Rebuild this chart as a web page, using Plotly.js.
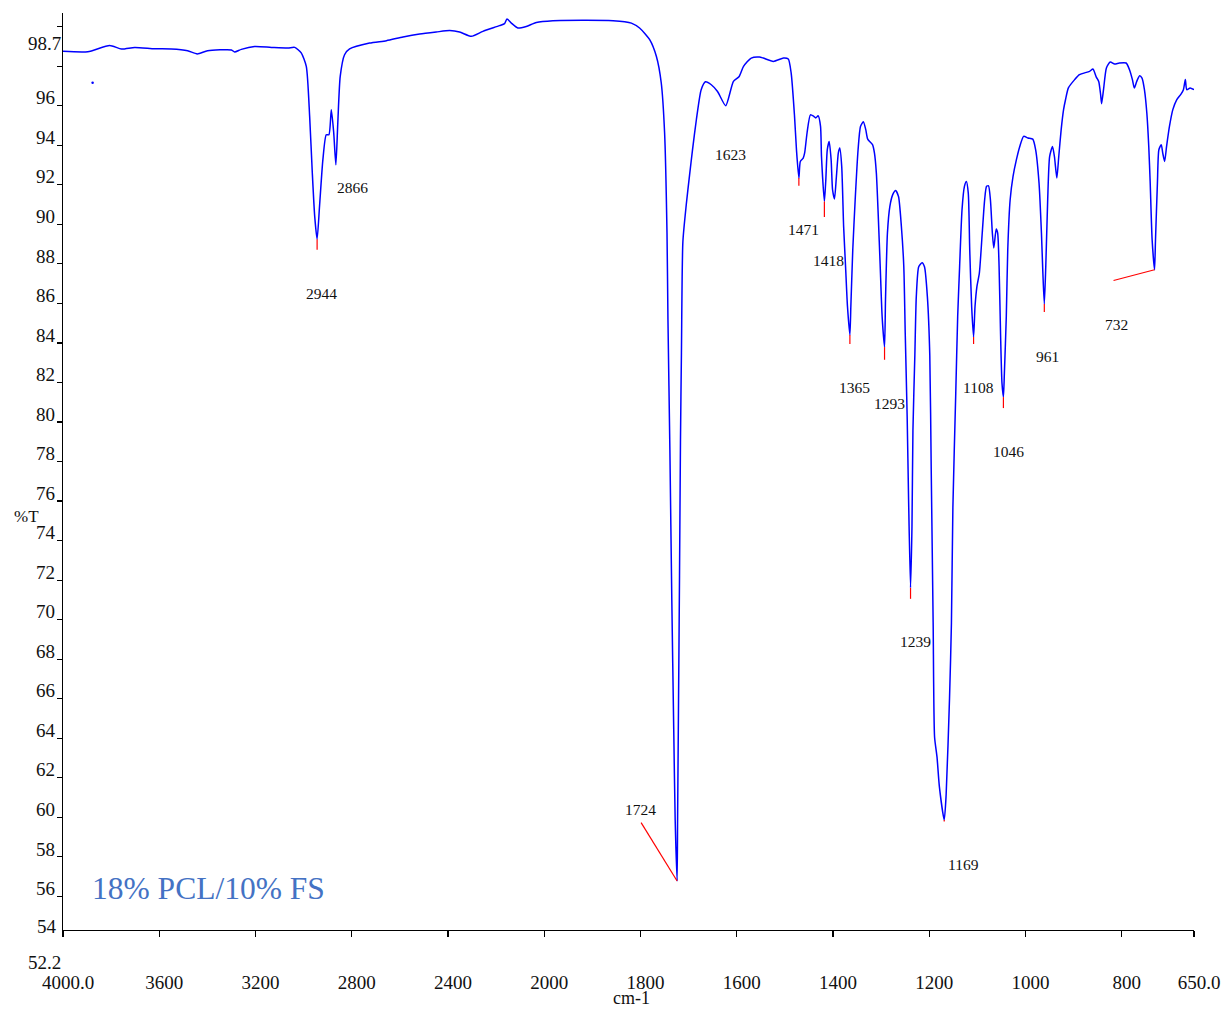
<!DOCTYPE html>
<html><head><meta charset="utf-8">
<script src="https://cdn.plot.ly/plotly-3.0.1.min.js"></script>
<style>html,body{margin:0;padding:0;background:#fff}</style>
</head><body><div id="chart" style="width:1226px;height:1009px"></div>
<script>
// ---- data (wavenumber in cm-1, transmittance in %T) ----
const wavenumber = [4000,3897,3806,3757,3702,3619,3550,3482,3442,3399,3300,3287,3259,3204,3134,3065,3037,3010,2989,2975,2964,2954,2944,2934,2920,2906,2895,2885,2875,2866,2858,2848,2830,2809,2726,2656,2587,2518,2449,2393,2352,2303,2255,2186,2165,2155,2137,2110,2075,2033,
1982,1912,1857,1833,1819,1802,1781,1767,1757,1750,1745,1743,1739,1735,1731,1728,1724,1723,1721,1719,1717,1715,1712,1705,1698,1692,1684,1674,1665,1653,1640,1623,1607,1595,1586,1570,1553,1545,1524,1503,1493,1487,1480,1476,1471,1468,1462,1459,1454,1447,1440,1436,1431,1426,1424,1418,1415,1412,1408,1404,1401,1397,1393,1389,1386,1382,1378,1374,1370,1365,1363,1359,1354,1348,1343,1337,1332,1328,1318,1314,1310,1306,1302,1298,1293,1291,1287,1282,1276,1270,1264,1258,1253,1250,1246,1243,1239,1236,1234,1230,1227,1222,1215,1210,1204,1199,1196,1192,1189,1184,1179,1169,1165,1158,1154,1151,1145,1141,1137,1132,1127,1123,1119,1116,1112,1108,1105,1101,1096,1090,1085,1081,1077,1073,1069,1066,1061,1058,1055,1052,1049,1046,1044,1040,1037,1032,1026,1019,1012,1004,995,985,979,972,967,964,961,958,954,950,944,940,935,931,926,921,917,911,898,888,867,860,853,848,844,842,838,832,824,815,805,791,784,778,774,769,763,758,753,748,744,741,737,732,730,726,723,718,715,711,707,701,694,686,677,672,668,665,658,650];
const transmittance = [98.75,98.73,99.05,98.87,98.95,98.88,98.87,98.78,98.62,98.78,98.82,98.72,98.85,98.99,98.95,98.92,98.95,98.67,97.99,95.46,92.61,90.40,89.25,90.90,93.27,94.53,94.53,95.80,94.63,93.01,95.14,97.48,98.58,98.87,99.17,99.29,99.48,99.63,99.73,99.80,99.73,99.51,99.76,100.05,100.15,100.39,100.18,99.93,100.01,100.21,
100.30,100.32,100.30,100.25,100.18,99.93,99.34,98.49,97.16,94.63,89.57,85.17,78.59,71.00,64.43,59.87,56.78,59.87,65.94,72.22,79.10,83.50,89.12,90.99,92.51,93.77,95.29,96.81,97.21,97.06,96.72,96.00,97.23,97.48,97.99,98.41,98.46,98.41,98.24,98.41,98.36,97.65,95.46,93.77,92.34,93.18,93.35,93.61,94.62,95.54,95.46,95.38,95.49,94.95,93.43,91.16,92.26,93.77,94.19,93.27,91.75,91.28,92.42,93.61,93.86,92.93,89.89,87.87,85.84,84.40,85.84,88.71,91.24,93.77,94.95,95.19,94.79,94.31,94.03,93.61,92.59,90.40,87.87,85.34,83.79,86.18,89.56,90.90,91.50,91.71,91.41,89.89,87.87,84.50,80.28,76.06,71.61,74.70,79.56,83.40,86.34,87.85,88.06,87.85,86.34,83.40,77.58,69.84,64.05,63.06,61.54,59.87,61.14,66.00,69.84,75.66,81.48,85.35,87.87,90.74,91.92,92.17,91.58,88.71,85.84,84.30,85.84,86.86,87.53,89.56,91.24,91.92,91.95,91.24,89.56,88.80,89.76,89.56,87.87,84.50,81.97,81.26,82.47,85.34,88.71,91.24,92.42,93.27,93.94,94.45,94.37,94.31,93.77,92.09,89.56,87.53,85.97,87.87,91.24,93.43,93.94,93.43,92.34,93.43,94.79,95.80,96.30,96.90,97.32,97.57,97.74,97.86,97.45,97.23,96.56,96.10,96.81,97.91,98.21,98.11,98.16,98.16,97.82,97.32,96.90,97.23,97.52,97.40,96.81,95.63,93.94,92.09,89.22,87.70,89.22,92.09,93.77,94.03,93.61,93.18,93.94,94.95,95.80,96.30,96.59,96.81,97.32,96.81,96.90,96.81];

const strayWavenumber = [3877];
const strayTransmittance = [97.16];

const peakWavenumbers = [2944,2866,1724,1623,1471,1418,1365,1293,1239,1169,1108,1046,961,732];
const peakTransmittance = [89.25,93.01,56.78,96.00,92.34,91.16,84.40,83.79,71.61,59.87,84.30,81.26,85.97,87.70];
const peakLabels = ['2944','2866','1724','1623','1471','1418','1365','1293','1239','1169','1108','1046','961','732'];

const xTickWavenumbers = [4000,3600,3200,2800,2400,2000,1800,1600,1400,1200,1000,800,650];
const xTickLabels = ['4000.0','3600','3200','2800','2400','2000','1800','1600','1400','1200','1000','800','650.0'];
const yTickValues = [56,58,60,62,64,66,68,70,72,74,76,78,80,82,84,86,88,90,92,94,96,98,100];
const yTickLabels = ['56','58','60','62','64','66','68','70','72','74','76','78','80','82','84','86','88','90','92','94','96','',''];
const yExtraValues = [98.7,54,52.2];
const yExtraLabels = ['98.7','54','52.2'];
const sampleName = '18% PCL/10% FS';
const xAxisName = 'cm-1';
const yAxisName = '%T';

// ---- presentation (offsets in px: [dx right, dy down]) ----
const labelOffsets = [[4.7,54],[17,22.3],[-36.7,-71.7],[4.3,49],[4.3,51],[4.3,59.3],[4.3,52.4],[5,56.7],[5.3,54],[19.3,44.3],[5,50.4],[4.7,54.4],[2.7,52.4],[-37.6,55]];
const leaderOffsets = [[0,10.7],null,[-36,-58.3],null,[0,7.7],[0,15.6],[0,9],[0,12.7],[0,11],[0,1.5],[0,7],[0,11],[0,8],[-41,10.7]];
const extraLabelXShift = [0,-4,0];

// Piecewise wavenumber scale of the instrument: 2x expansion below 2000 cm-1
function toAxis(wn){ return wn >= 2000 ? 4000 - wn : 2000 + 2*(2000 - wn); }

const Y0 = 54.3, Y1 = 100.69;
const serif = 'Liberation Serif, Times New Roman, serif';

const traces = [
  {x: wavenumber.map(toAxis), y: transmittance, type:'scatter', mode:'lines',
   line:{color:'#0000ff', width:1.5, shape:'spline', smoothing:0.6}, hoverinfo:'skip', showlegend:false},
  {x: strayWavenumber.map(toAxis), y: strayTransmittance, type:'scatter', mode:'markers',
   marker:{color:'#0000ff', size:2.5}, showlegend:false}
];

const annotations = [];
const shapes = [];
peakWavenumbers.forEach((wn,i)=>{
  annotations.push({x: toAxis(wn), y: peakTransmittance[i], xref:'x', yref:'y', text: peakLabels[i],
    showarrow:false, xanchor:'center', yanchor:'middle',
    xshift: labelOffsets[i][0], yshift: -labelOffsets[i][1],
    font:{family:serif, size:15.5, color:'#111'}});
  const lo = leaderOffsets[i];
  if(lo){
    shapes.push({type:'line', xref:'x', yref:'y', xsizemode:'pixel', ysizemode:'pixel',
      xanchor: toAxis(wn), yanchor: peakTransmittance[i], x0:0, y0:0, x1: lo[0], y1: -lo[1],
      line:{color:'#ff0000', width:1.2}});
  }
});
yExtraValues.forEach((v,i)=>{
  annotations.push({xref:'paper', yref:'paper', x:0, y:(v - Y0)/(Y1 - Y0), text:yExtraLabels[i],
    showarrow:false, xanchor:'right', yanchor:'middle', xshift:extraLabelXShift[i], yshift:9,
    font:{family:serif, size:19, color:'#111'}});
});
annotations.push({xref:'paper', yref:'paper', x:-0.032, y:0.451, text:yAxisName, showarrow:false,
  xanchor:'center', yanchor:'middle', font:{family:serif, size:17, color:'#111'}});
annotations.push({xref:'paper', yref:'paper', x:0.5025, y:-0.074, text:xAxisName, showarrow:false,
  xanchor:'center', yanchor:'middle', font:{family:serif, size:18, color:'#111'}});
annotations.push({xref:'paper', yref:'paper', x:0.0235, y:0.0458, text:sampleName, showarrow:false,
  xanchor:'left', yanchor:'middle', font:{family:serif, size:31.5, color:'#4472c4'}});

const layout = {
  width:1226, height:1009,
  margin:{l:63, r:32, t:13, b:79},
  paper_bgcolor:'#ffffff', plot_bgcolor:'#ffffff',
  showlegend:false,
  xaxis:{range:[0,4700], tickmode:'array', tickvals:xTickWavenumbers.map(toAxis), ticktext:xTickLabels,
    showgrid:false, zeroline:false, showline:true, linecolor:'#000', linewidth:1.2,
    ticks:'outside', ticklen:6, tickcolor:'#000', tickwidth:1.2,
    ticklabelstandoff:29, ticklabelshift:5,
    tickfont:{family:serif, size:19, color:'#111'}},
  yaxis:{range:[Y0,Y1], tickmode:'array', tickvals:yTickValues, ticktext:yTickLabels,
    showgrid:false, zeroline:false, showline:true, linecolor:'#000', linewidth:1.2,
    ticks:'outside', ticklen:5, tickcolor:'#000', tickwidth:1.2,
    ticklabelshift:-8, ticklabelstandoff:-2,
    tickfont:{family:serif, size:19, color:'#111'}},
  annotations: annotations,
  shapes: shapes
};
Plotly.newPlot('chart', traces, layout, {displayModeBar:false, staticPlot:true});
</script></body></html>
